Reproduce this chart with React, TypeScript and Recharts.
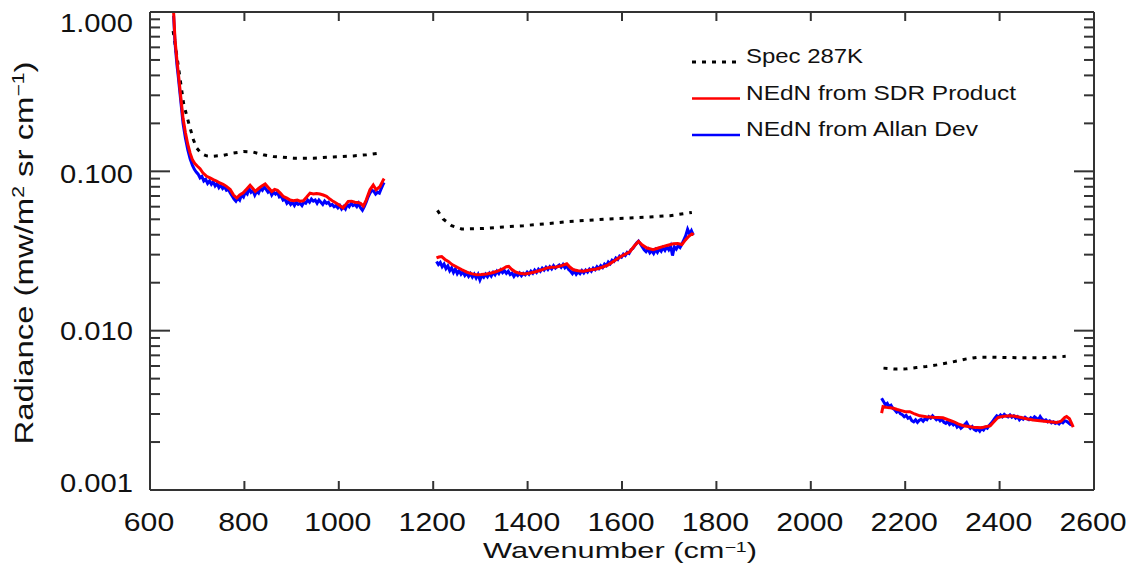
import React from 'react';
import { LineChart, Line, XAxis, YAxis } from 'recharts';

// wavenumber (cm-1), radiance (mw/m2 sr cm-1)
const spec287K_band1: [number, number][] = [
  [649, 0.76], [656, 0.554], [665, 0.359], [671, 0.269], [678, 0.222], [685, 0.187], [692, 0.158],
  [699, 0.14], [709, 0.129], [720, 0.125], [731, 0.124], [755, 0.126], [776, 0.13], [798, 0.133],
  [819, 0.132], [840, 0.127], [861, 0.124], [904, 0.121], [946, 0.121], [988, 0.123], [1031, 0.125],
  [1059, 0.127], [1084, 0.13], [1092, 0.132],
];
const spec287K_band2: [number, number][] = [
  [1209, 0.0569], [1221, 0.0502], [1239, 0.0456], [1260, 0.0435], [1306, 0.0438], [1349, 0.0448],
  [1391, 0.0456], [1440, 0.0469], [1483, 0.0483], [1525, 0.0492], [1568, 0.0502], [1617, 0.0509],
  [1659, 0.0517], [1702, 0.0527], [1748, 0.0552],
];
const spec287K_band3: [number, number][] = [
  [2154, 0.00582], [2178, 0.00574], [2203, 0.00576], [2224, 0.00587], [2245, 0.00596], [2267, 0.0061],
  [2288, 0.00626], [2310, 0.00645], [2330, 0.00665], [2355, 0.00682], [2380, 0.00682], [2401, 0.0068],
  [2444, 0.00676], [2486, 0.00676], [2520, 0.00682], [2540, 0.0069],
];

const sdr_band1: [number, number][] = [
  [650, 1.0], [653, 0.67], [657, 0.5], [660, 0.415], [665, 0.296], [670, 0.215], [675, 0.175], [680, 0.148],
  [685, 0.13], [690, 0.118], [695, 0.112], [700, 0.108], [706, 0.104], [712, 0.098], [720, 0.093],
  [727, 0.091], [734, 0.0887], [741, 0.087], [748, 0.0845], [755, 0.083], [762, 0.0805], [770, 0.077],
  [777, 0.071], [784, 0.068], [790, 0.071], [797, 0.073], [804, 0.077], [812, 0.0817], [818, 0.078],
  [823, 0.0748], [830, 0.078], [837, 0.081], [844, 0.0833], [851, 0.079], [858, 0.0748], [864, 0.077],
  [870, 0.076], [876, 0.073], [882, 0.0697], [890, 0.068], [897, 0.066], [904, 0.0654], [912, 0.066],
  [918, 0.065], [925, 0.0654], [932, 0.069], [939, 0.073], [946, 0.072], [953, 0.0725], [960, 0.072],
  [967, 0.071], [974, 0.0697], [981, 0.067], [988, 0.0648], [995, 0.063], [1002, 0.061], [1009, 0.0589],
  [1015, 0.062], [1020, 0.0648], [1027, 0.065], [1034, 0.064], [1040, 0.0638], [1046, 0.063],
  [1052, 0.0605], [1058, 0.066], [1066, 0.0766], [1073, 0.082], [1079, 0.0766], [1087, 0.08],
  [1094, 0.088], [1096, 0.09],
];
const sdr_band2: [number, number][] = [
  [1207, 0.0286], [1212, 0.029], [1218, 0.0292], [1225, 0.028], [1232, 0.0272], [1240, 0.026],
  [1250, 0.0251], [1260, 0.0242], [1271, 0.0233], [1281, 0.0228], [1292, 0.0224], [1302, 0.0225],
  [1313, 0.0227], [1323, 0.023], [1334, 0.0235], [1346, 0.0243], [1355, 0.0252], [1360, 0.0253],
  [1366, 0.0243], [1373, 0.0235], [1383, 0.0229], [1394, 0.0227], [1406, 0.023], [1419, 0.0235],
  [1430, 0.0241], [1440, 0.0247], [1450, 0.025], [1461, 0.0251], [1472, 0.0256], [1483, 0.0263],
  [1490, 0.025], [1497, 0.0241], [1507, 0.0238], [1518, 0.0236], [1532, 0.024], [1546, 0.0244],
  [1558, 0.025], [1571, 0.0259], [1584, 0.0275], [1596, 0.029], [1607, 0.0302], [1617, 0.0314],
  [1626, 0.034], [1635, 0.0363], [1643, 0.0345], [1653, 0.033], [1666, 0.0322], [1677, 0.033],
  [1688, 0.0338], [1699, 0.0345], [1709, 0.0351], [1718, 0.0352], [1727, 0.0347], [1734, 0.037],
  [1741, 0.039], [1748, 0.0405], [1752, 0.04],
];
const sdr_band3: [number, number][] = [
  [2150, 0.00304], [2153, 0.00334], [2160, 0.0033], [2168, 0.00328], [2175, 0.00326], [2183, 0.0032],
  [2192, 0.00315], [2200, 0.0031], [2210, 0.0031], [2220, 0.003], [2231, 0.00292], [2245, 0.00288],
  [2259, 0.00286], [2270, 0.00285], [2280, 0.00284], [2291, 0.00276], [2302, 0.00269], [2312, 0.0026],
  [2323, 0.00253], [2334, 0.0025], [2344, 0.00248], [2353, 0.00247], [2362, 0.00246], [2371, 0.0025],
  [2380, 0.00253], [2389, 0.0027], [2397, 0.00286], [2410, 0.0029], [2422, 0.00292], [2433, 0.0029],
  [2443, 0.00286], [2457, 0.0028], [2471, 0.00275], [2485, 0.00272], [2500, 0.00269], [2511, 0.00267],
  [2521, 0.00265], [2530, 0.0027], [2538, 0.00285], [2542, 0.00289], [2548, 0.0028], [2553, 0.0026],
  [2556, 0.00248],
];

const allan_band1: [number, number][] = [
  [650, 0.95], [653, 0.64], [657, 0.47], [660, 0.39], [665, 0.28], [670, 0.2], [675, 0.162], [680, 0.137],
  [685, 0.12], [690, 0.109], [694, 0.103], [698, 0.099], [702, 0.096], [706, 0.091], [710, 0.093],
  [714, 0.087], [718, 0.089], [722, 0.084], [726, 0.087], [730, 0.083], [734, 0.086], [738, 0.081],
  [742, 0.084], [746, 0.079], [750, 0.082], [754, 0.078], [758, 0.08], [762, 0.076], [766, 0.077],
  [770, 0.073], [774, 0.07], [778, 0.067], [782, 0.065], [786, 0.068], [790, 0.066], [794, 0.071],
  [798, 0.069], [802, 0.074], [806, 0.072], [810, 0.078], [814, 0.074], [818, 0.076], [822, 0.071],
  [826, 0.075], [830, 0.073], [834, 0.078], [838, 0.076], [842, 0.08], [846, 0.077], [850, 0.074],
  [854, 0.076], [858, 0.071], [862, 0.074], [866, 0.072], [870, 0.074], [874, 0.069], [878, 0.07],
  [882, 0.066], [886, 0.067], [890, 0.063], [894, 0.065], [898, 0.062], [902, 0.064], [906, 0.061],
  [910, 0.064], [914, 0.062], [918, 0.063], [922, 0.061], [926, 0.064], [930, 0.063], [934, 0.066],
  [938, 0.064], [942, 0.067], [946, 0.065], [950, 0.066], [954, 0.063], [958, 0.066], [962, 0.064],
  [966, 0.062], [970, 0.065], [974, 0.063], [978, 0.064], [982, 0.061], [986, 0.062], [990, 0.06],
  [994, 0.061], [998, 0.059], [1002, 0.061], [1006, 0.058], [1010, 0.06], [1014, 0.058], [1018, 0.062],
  [1022, 0.06], [1026, 0.063], [1030, 0.061], [1034, 0.062], [1038, 0.06], [1042, 0.063], [1046, 0.059],
  [1050, 0.057], [1054, 0.06], [1058, 0.064], [1062, 0.069], [1066, 0.073], [1070, 0.076], [1074, 0.075],
  [1078, 0.072], [1082, 0.074], [1086, 0.073], [1090, 0.078], [1094, 0.083], [1096, 0.085],
];
const allan_band2: [number, number][] = [
  [1207, 0.0272], [1211, 0.026], [1215, 0.0268], [1219, 0.0252], [1223, 0.0262], [1227, 0.0245],
  [1231, 0.0255], [1235, 0.0238], [1239, 0.0248], [1243, 0.0232], [1247, 0.0244], [1251, 0.0228],
  [1255, 0.0238], [1259, 0.0226], [1263, 0.0234], [1267, 0.0222], [1271, 0.023], [1275, 0.0219],
  [1279, 0.0228], [1283, 0.0217], [1287, 0.0226], [1291, 0.0214], [1295, 0.0225], [1299, 0.0208],
  [1303, 0.0222], [1307, 0.0216], [1311, 0.0226], [1315, 0.0218], [1319, 0.0229], [1323, 0.022],
  [1327, 0.0232], [1331, 0.0224], [1335, 0.0236], [1339, 0.0228], [1343, 0.024], [1347, 0.0231],
  [1351, 0.0238], [1355, 0.0229], [1359, 0.0236], [1363, 0.0225], [1367, 0.023], [1371, 0.0219],
  [1375, 0.0228], [1379, 0.0222], [1383, 0.023], [1387, 0.0221], [1391, 0.0229], [1395, 0.0224],
  [1399, 0.0233], [1403, 0.0226], [1407, 0.0236], [1411, 0.0229], [1415, 0.024], [1419, 0.0232],
  [1423, 0.0243], [1427, 0.0236], [1431, 0.0247], [1435, 0.024], [1439, 0.025], [1443, 0.0242],
  [1447, 0.0252], [1451, 0.0244], [1455, 0.0256], [1459, 0.0247], [1463, 0.0253], [1467, 0.0258],
  [1471, 0.025], [1475, 0.026], [1479, 0.0248], [1483, 0.0255], [1487, 0.0242], [1491, 0.0236],
  [1495, 0.0228], [1499, 0.0237], [1503, 0.0226], [1507, 0.0234], [1511, 0.0228], [1515, 0.0238],
  [1519, 0.023], [1523, 0.024], [1527, 0.0233], [1531, 0.0243], [1535, 0.0236], [1539, 0.0247],
  [1543, 0.0241], [1547, 0.0252], [1551, 0.0245], [1555, 0.0256], [1559, 0.0249], [1563, 0.0262],
  [1567, 0.0256], [1571, 0.027], [1575, 0.0263], [1579, 0.0277], [1583, 0.0272], [1587, 0.0286],
  [1591, 0.028], [1595, 0.0294], [1599, 0.0289], [1603, 0.0302], [1607, 0.0296], [1611, 0.031],
  [1615, 0.0305], [1619, 0.0322], [1623, 0.0328], [1627, 0.0342], [1631, 0.0355], [1635, 0.0365],
  [1639, 0.035], [1643, 0.0336], [1647, 0.0322], [1651, 0.0313], [1655, 0.0325], [1659, 0.0308],
  [1663, 0.0318], [1667, 0.0305], [1671, 0.0322], [1675, 0.031], [1679, 0.0326], [1683, 0.0315],
  [1687, 0.0332], [1691, 0.0319], [1695, 0.0336], [1699, 0.0322], [1703, 0.034], [1707, 0.0296],
  [1711, 0.0335], [1715, 0.0325], [1719, 0.0342], [1723, 0.0333], [1727, 0.035], [1731, 0.0372],
  [1735, 0.0395], [1739, 0.0433], [1743, 0.0405], [1747, 0.0425], [1751, 0.0398],
];
const allan_band3: [number, number][] = [
  [2150, 0.00377], [2154, 0.0036], [2158, 0.00342], [2162, 0.0035], [2166, 0.00332], [2170, 0.0034],
  [2174, 0.00325], [2178, 0.00318], [2182, 0.00308], [2186, 0.00314], [2190, 0.00301], [2194, 0.00297],
  [2198, 0.00288], [2202, 0.00294], [2206, 0.00282], [2210, 0.00286], [2214, 0.00272], [2218, 0.00268],
  [2222, 0.00276], [2226, 0.00266], [2230, 0.00274], [2234, 0.00278], [2238, 0.0027], [2242, 0.0028],
  [2246, 0.00276], [2250, 0.00288], [2254, 0.00282], [2258, 0.00292], [2262, 0.00284], [2266, 0.00276],
  [2270, 0.00282], [2274, 0.00272], [2278, 0.00278], [2282, 0.00266], [2286, 0.00262], [2290, 0.0027],
  [2294, 0.00258], [2298, 0.00264], [2302, 0.00256], [2306, 0.00262], [2310, 0.00248], [2314, 0.00254],
  [2318, 0.00244], [2322, 0.0025], [2326, 0.00258], [2330, 0.00265], [2334, 0.00252], [2338, 0.00244],
  [2342, 0.0025], [2346, 0.0024], [2350, 0.00236], [2354, 0.00242], [2358, 0.00234], [2362, 0.00244],
  [2366, 0.00238], [2370, 0.00248], [2374, 0.00244], [2378, 0.00254], [2382, 0.00262], [2386, 0.00272],
  [2390, 0.00282], [2394, 0.00292], [2398, 0.00286], [2402, 0.00296], [2406, 0.00288], [2410, 0.00298],
  [2414, 0.00292], [2418, 0.00288], [2422, 0.00296], [2426, 0.00286], [2430, 0.00292], [2434, 0.00282],
  [2438, 0.00288], [2442, 0.00276], [2446, 0.00284], [2450, 0.00278], [2454, 0.00286], [2458, 0.0028],
  [2462, 0.00276], [2466, 0.00284], [2470, 0.00278], [2474, 0.00288], [2478, 0.00282], [2482, 0.00276],
  [2486, 0.00289], [2490, 0.00278], [2494, 0.00272], [2498, 0.00276], [2502, 0.00268], [2506, 0.00272],
  [2510, 0.00264], [2514, 0.00268], [2518, 0.00262], [2522, 0.00266], [2526, 0.0026], [2530, 0.00268],
  [2534, 0.00264], [2538, 0.00272], [2542, 0.0027], [2546, 0.00264], [2550, 0.00258], [2554, 0.00255],
];

const xTicks = [600, 800, 1000, 1200, 1400, 1600, 1800, 2000, 2200, 2400, 2600];
const yMajorTicks = [0.001, 0.01, 0.1, 1];
const yTickLabels = ['0.001', '0.010', '0.100', '1.000'];
const yLabelNudge = [-7, 0, 3, 11];
const yMinorTicks = [0.001, 0.01, 0.1].flatMap((d) => [2, 3, 4, 5, 6, 7, 8, 9].map((k) => k * d));
const yAllTicks = [...yMajorTicks, ...yMinorTicks].sort((a, b) => a - b);

const FONT = '"Liberation Sans", Arial, sans-serif';
const AXIS = '#333';
const INK = '#111';

const toPts = (a: [number, number][]) => a.map(([wn, v]) => ({ wn, v }));

const LeftTick = (props: any) => {
  const { x, y, payload } = props;
  const i = yMajorTicks.indexOf(payload.value);
  const major = i >= 0;
  return (
    <g>
      <line x1={x} x2={x + (major ? 20 : 10)} y1={y} y2={y} stroke={AXIS} strokeWidth={2} />
      {major && (
        <text x={133} y={y + 9 + yLabelNudge[i]} textAnchor="end" fontSize={25} fontFamily={FONT} fill={INK}
          textLength={73} lengthAdjust="spacingAndGlyphs">
          {yTickLabels[i]}
        </text>
      )}
    </g>
  );
};

const RightTick = (props: any) => {
  const { x, y, payload } = props;
  const major = yMajorTicks.indexOf(payload.value) >= 0;
  return <line x1={x} x2={x - (major ? 20 : 10)} y1={y} y2={y} stroke={AXIS} strokeWidth={2} />;
};

const BottomTick = (props: any) => {
  const { x, y, payload } = props;
  const label = String(payload.value);
  return (
    <g>
      <line x1={x} x2={x} y1={y} y2={y - 9} stroke={AXIS} strokeWidth={2} />
      <text x={x - 1} y={y + 41} textAnchor="middle" fontSize={26} fontFamily={FONT} fill={INK}
        textLength={label.length * 16.8} lengthAdjust="spacingAndGlyphs">
        {label}
      </text>
    </g>
  );
};

const TopTick = (props: any) => {
  const { x, y } = props;
  return <line x1={x} x2={x} y1={y} y2={y + 9} stroke={AXIS} strokeWidth={2} />;
};

const bands = [
  { spec: spec287K_band1, sdr: sdr_band1, allan: allan_band1 },
  { spec: spec287K_band2, sdr: sdr_band2, allan: allan_band2 },
  { spec: spec287K_band3, sdr: sdr_band3, allan: allan_band3 },
];

const legendItems = [
  { name: 'Spec 287K', color: '#000', dash: '4 6', len: 117 },
  { name: 'NEdN from SDR Product', color: '#ff0000', dash: undefined, len: 270 },
  { name: 'NEdN from Allan Dev', color: '#0000ff', dash: undefined, len: 232 },
];

export default function App() {
  return (
    <div style={{ position: 'absolute', left: 0, top: 0, width: 1132, height: 573, background: '#fff' }}>
      <LineChart width={1132} height={573} margin={{ top: 0, right: 0, bottom: 0, left: 0 }}>
        <XAxis xAxisId={0} dataKey="wn" type="number" domain={[600, 2600]} ticks={xTicks} interval={0}
          allowDataOverflow height={83} tickLine={false} tickSize={0} tickMargin={0}
          axisLine={{ stroke: AXIS, strokeWidth: 2 }} tick={<BottomTick />} />
        <XAxis xAxisId="top" orientation="top" dataKey="wn" type="number" domain={[600, 2600]} ticks={xTicks}
          interval={0} allowDataOverflow height={12} tickLine={false} tickSize={0} tickMargin={0}
          axisLine={{ stroke: AXIS, strokeWidth: 2 }} tick={<TopTick />} />
        <YAxis yAxisId={0} dataKey="v" scale="log" type="number" domain={[0.001, 1]} allowDataOverflow
          ticks={yAllTicks} interval={0} width={150} tickLine={false} tickSize={0} tickMargin={0}
          axisLine={{ stroke: AXIS, strokeWidth: 2 }} tick={<LeftTick />} />
        <YAxis yAxisId="right" orientation="right" scale="log" type="number" domain={[0.001, 1]} allowDataOverflow
          ticks={yAllTicks} interval={0} width={38} tickLine={false} tickSize={0} tickMargin={0}
          axisLine={{ stroke: AXIS, strokeWidth: 2 }} tick={<RightTick />} />
        {bands.map((b, i) => (
          <Line key={'spec' + i} data={toPts(b.spec)} dataKey="v" type="linear" stroke="#000" strokeWidth={3}
            strokeDasharray="4 6" dot={false} isAnimationActive={false} />
        ))}
        {bands.map((b, i) => (
          <Line key={'allan' + i} data={toPts(b.allan)} dataKey="v" type="linear" stroke="#0000ff" strokeWidth={3}
            dot={false} isAnimationActive={false} />
        ))}
        {bands.map((b, i) => (
          <Line key={'sdr' + i} data={toPts(b.sdr)} dataKey="v" type="linear" stroke="#ff0000" strokeWidth={3}
            dot={false} isAnimationActive={false} />
        ))}
      </LineChart>
      <svg width={1132} height={573} style={{ position: 'absolute', left: 0, top: 0, pointerEvents: 'none' }}>
        {legendItems.map((it, i) => {
          const base = 63 + i * 36.5;
          return (
            <g key={it.name}>
              <line x1={692} x2={740} y1={base - 1} y2={base - 1} stroke={it.color} strokeWidth={it.dash ? 3 : 2.5}
                strokeDasharray={it.dash} />
              <text x={746} y={base} fontSize={19.5} fontFamily={FONT} fill={INK} textLength={it.len}
                lengthAdjust="spacingAndGlyphs">
                {it.name}
              </text>
            </g>
          );
        })}
        <text x={620} y={558} textAnchor="middle" fontSize={22} fontFamily={FONT} fill={INK} textLength={274}
          lengthAdjust="spacingAndGlyphs">
          Wavenumber (cm<tspan dy={-6} fontSize={14}>−1</tspan><tspan dy={6}>)</tspan>
        </text>
        <text x={33} y={253} transform="rotate(-90 33 253)" textAnchor="middle" fontSize={25} fontFamily={FONT}
          fill={INK} textLength={383} lengthAdjust="spacingAndGlyphs">
          Radiance (mw/m<tspan dy={-9} fontSize={16}>2</tspan><tspan dy={9}> sr cm</tspan>
          <tspan dy={-9} fontSize={16}>−1</tspan><tspan dy={9}>)</tspan>
        </text>
      </svg>
    </div>
  );
}
